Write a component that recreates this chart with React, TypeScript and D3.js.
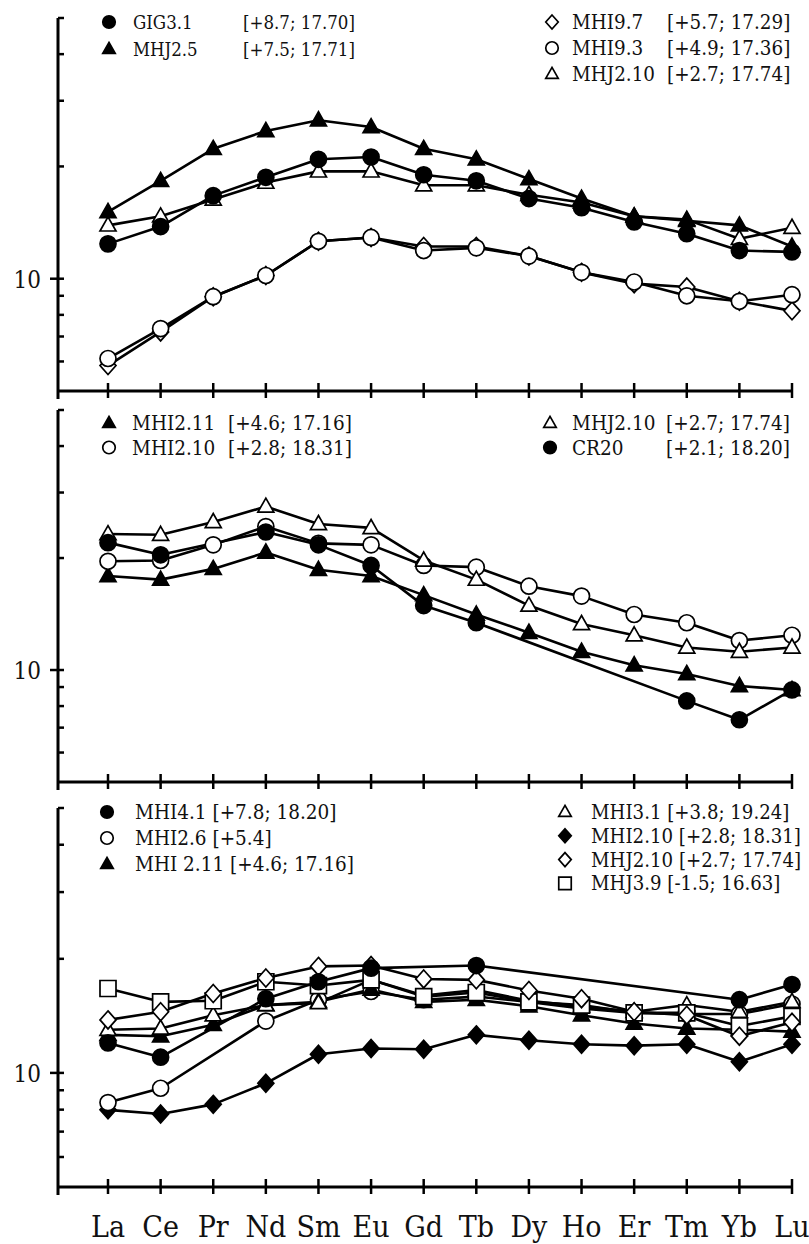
import React from "react";
import * as d3 from "d3";

// REE pattern (chondrite-normalised) for three groups of samples
const ELEMENTS = ["La", "Ce", "Pr", "Nd", "Sm", "Eu", "Gd", "Tb", "Dy", "Ho", "Er", "Tm", "Yb", "Lu"];
const Y_DOMAIN = [5, 50];
const Y_MINOR_TICKS = [6, 7, 8, 9, 20, 30, 40, 50];
const Y_MAJOR_TICKS = [10];

// Panel A
const GIG3_1 = [12.4, 13.8, 16.7, 18.7, 20.9, 21.2, 19.0, 18.3, 16.4, 15.5, 14.2, 13.2, 11.9, 11.8];
const MHJ2_5 = [15.1, 18.3, 22.3, 24.9, 26.6, 25.5, 22.3, 20.9, 18.5, 16.4, 14.7, 14.3, 13.9, 12.2];
const MHI9_7 = [5.85, 7.2, 8.95, 10.2, 12.6, 12.9, 12.2, 12.2, 11.5, 10.4, 9.7, 9.5, 8.7, 8.2];
const MHI9_3 = [6.11, 7.35, 8.95, 10.2, 12.6, 12.9, 11.9, 12.1, 11.5, 10.4, 9.8, 9.0, 8.7, 9.06];
const MHJ2_10_A = [13.9, 14.7, 16.3, 18.1, 19.4, 19.4, 17.8, 17.8, 16.8, 16.0, 14.7, 14.4, 12.8, 13.7];

// Panel B
const MHI2_11_B = [17.9, 17.5, 18.7, 20.7, 18.6, 17.9, 15.9, 14.1, 12.6, 11.2, 10.3, 9.76, 9.06, 8.84];
const MHI2_10_B = [19.6, 19.7, 21.7, 24.3, 21.9, 21.7, 19.1, 18.9, 16.8, 15.8, 14.1, 13.4, 12.0, 12.4];
const MHJ2_10_B = [23.2, 23.1, 25.0, 27.5, 24.7, 24.1, 19.7, 17.5, 14.9, 13.3, 12.4, 11.5, 11.2, 11.5];
const CR20 = [22.0, 20.4, null, 23.5, 21.7, 19.1, 14.9, 13.4, null, null, null, 8.26, 7.35, 8.84];

// Panel C
const MHI4_1 = [12.0, 11.0, null, 15.7, 17.4, 18.9, null, 19.2, null, null, null, null, 15.6, 17.1];
const MHI2_6 = [8.35, 9.11, null, 13.7, 15.6, 16.4, 15.6, 15.9, 15.4, 14.8, 14.4, 14.3, 14.3, 15.2];
const MHI2_11_C = [12.6, 12.5, 13.4, 15.1, 15.4, 16.6, 15.4, 15.6, 15.0, 14.2, 13.5, 13.1, 13.0, 12.85];
const MHI3_1 = [13.0, 13.1, 14.2, 15.1, 15.3, 17.6, 16.0, 16.55, 15.5, 15.0, 14.5, 15.1, 14.5, 15.4];
const MHI2_10_C = [7.99, 7.79, 8.26, 9.39, 11.2, 11.6, 11.55, 12.6, 12.2, 11.9, 11.8, 11.9, 10.7, 11.9];
const MHJ2_10_C = [13.8, 14.5, 16.2, 17.8, 19.1, 19.2, 17.7, 17.6, 16.5, 15.7, 14.5, 14.2, 12.5, 13.6];
const MHJ3_9 = [16.7, 15.4, 15.5, 17.4, 17.0, 17.6, 15.9, 16.3, 15.4, 15.1, 14.4, 14.4, 13.3, 14.1];

type MarkerKind = "circleF" | "circleO" | "triF" | "triO" | "diaF" | "diaO" | "sqO";

interface Series { values: (number | null)[]; marker: MarkerKind; }
interface LegendItem { marker: MarkerKind; name: string; info: string; }
interface LegendBlock { x: number; nameX: number; infoX: number | null; y: number; dy: number; size: number; items: LegendItem[]; }
interface Panel { top: number; bottom: number; series: Series[]; legends: LegendBlock[]; }

const W = 809;
const H = 1244;
const AXIS_X = 58;
const X_FIRST = 108;
const X_LAST = 792;
const FONT = "'DejaVu Serif Condensed', 'DejaVu Serif', 'Liberation Serif', serif";
const INK = "#111";

const PANELS: Panel[] = [
  {
    top: 18, bottom: 391,
    series: [
      { values: MHI9_7, marker: "diaO" },
      { values: MHI9_3, marker: "circleO" },
      { values: MHJ2_10_A, marker: "triO" },
      { values: GIG3_1, marker: "circleF" },
      { values: MHJ2_5, marker: "triF" },
    ],
    legends: [
      { x: 109, nameX: 133, infoX: 243, y: 22, dy: 27, size: 18.5, items: [
        { marker: "circleF", name: "GIG3.1", info: "[+8.7; 17.70]" },
        { marker: "triF", name: "MHJ2.5", info: "[+7.5; 17.71]" },
      ] },
      { x: 552, nameX: 572, infoX: 667, y: 22, dy: 26, size: 20.4, items: [
        { marker: "diaO", name: "MHI9.7", info: "[+5.7; 17.29]" },
        { marker: "circleO", name: "MHI9.3", info: "[+4.9; 17.36]" },
        { marker: "triO", name: "MHJ2.10", info: "[+2.7; 17.74]" },
      ] },
    ],
  },
  {
    top: 410, bottom: 782,
    series: [
      { values: MHI2_11_B, marker: "triF" },
      { values: MHI2_10_B, marker: "circleO" },
      { values: MHJ2_10_B, marker: "triO" },
      { values: CR20, marker: "circleF" },
    ],
    legends: [
      { x: 109, nameX: 132, infoX: 228, y: 423, dy: 24.5, size: 20.5, items: [
        { marker: "triF", name: "MHI2.11", info: "[+4.6; 17.16]" },
        { marker: "circleO", name: "MHI2.10", info: "[+2.8; 18.31]" },
      ] },
      { x: 550, nameX: 572, infoX: 666, y: 423, dy: 24.5, size: 20.5, items: [
        { marker: "triO", name: "MHJ2.10", info: "[+2.7; 17.74]" },
        { marker: "circleF", name: "CR20", info: "[+2.1; 18.20]" },
      ] },
    ],
  },
  {
    top: 808, bottom: 1187,
    series: [
      { values: MHI2_10_C, marker: "diaF" },
      { values: MHI2_6, marker: "circleO" },
      { values: MHI2_11_C, marker: "triF" },
      { values: MHI3_1, marker: "triO" },
      { values: MHJ3_9, marker: "sqO" },
      { values: MHJ2_10_C, marker: "diaO" },
      { values: MHI4_1, marker: "circleF" },
    ],
    legends: [
      { x: 107, nameX: 135, infoX: null, y: 812, dy: 26, size: 20.5, items: [
        { marker: "circleF", name: "MHI4.1", info: "[+7.8; 18.20]" },
        { marker: "circleO", name: "MHI2.6", info: "[+5.4]" },
        { marker: "triF", name: "MHI 2.11", info: "[+4.6; 17.16]" },
      ] },
      { x: 565, nameX: 591, infoX: null, y: 812, dy: 23.8, size: 20.2, items: [
        { marker: "triO", name: "MHI3.1", info: "[+3.8; 19.24]" },
        { marker: "diaF", name: "MHI2.10", info: "[+2.8; 18.31]" },
        { marker: "diaO", name: "MHJ2.10", info: "[+2.7; 17.74]" },
        { marker: "sqO", name: "MHJ3.9", info: "[-1.5; 16.63]" },
      ] },
    ],
  },
];

function markerPath(kind: MarkerKind, s: number): string {
  if (kind === "circleF" || kind === "circleO") {
    return d3.symbol(d3.symbolCircle, Math.PI * (s / 2) * (s / 2))() as string;
  }
  if (kind === "triF" || kind === "triO") {
    const h = s * 0.88;
    return `M0,${-h * 0.6}L${s / 2},${h * 0.4}L${-s / 2},${h * 0.4}Z`;
  }
  if (kind === "diaF" || kind === "diaO") {
    const a = s * 0.56;
    const b = s * 0.5;
    return `M0,${-a}L${b},0L0,${a}L${-b},0Z`;
  }
  const r = s / 2;
  return `M${-r},${-r}H${r}V${r}H${-r}Z`;
}

function isFilled(kind: MarkerKind): boolean {
  return kind === "circleF" || kind === "triF" || kind === "diaF";
}

const x = d3.scalePoint<string>().domain(ELEMENTS).range([X_FIRST, X_LAST]);

function Marker({ kind, cx, cy, s }: { kind: MarkerKind; cx: number; cy: number; s: number }) {
  return (
    <path
      d={markerPath(kind, s)}
      transform={`translate(${cx},${cy})`}
      fill={isFilled(kind) ? "#000" : "#fff"}
      stroke="#000"
      strokeWidth={1.7}
    />
  );
}

function PanelView({ panel, showLabels }: { panel: Panel; showLabels: boolean }) {
  const y = d3.scaleLog().domain(Y_DOMAIN).range([panel.bottom, panel.top]);
  const line = d3
    .line<{ i: number; v: number }>()
    .x((d) => x(ELEMENTS[d.i]) as number)
    .y((d) => y(d.v));

  const pts = (vals: (number | null)[]) =>
    vals.map((v, i) => ({ i, v })).filter((d) => d.v != null) as { i: number; v: number }[];

  return (
    <g>
      {/* y axis */}
      <line x1={AXIS_X} x2={AXIS_X} y1={y(50)} y2={panel.bottom + 8} stroke="#000" strokeWidth={3} />
      {Y_MINOR_TICKS.map((t) => (
        <line key={t} x1={AXIS_X} x2={AXIS_X + 6} y1={y(t)} y2={y(t)} stroke="#000" strokeWidth={2.5} />
      ))}
      {Y_MAJOR_TICKS.map((t) => (
        <g key={t}>
          <line x1={AXIS_X - 8} x2={AXIS_X + 6} y1={y(t)} y2={y(t)} stroke="#000" strokeWidth={2.5} />
          <text x={AXIS_X - 17} y={y(t) + 9} textAnchor="end" fontFamily={FONT} fontSize={24} fill={INK}>
            {t}
          </text>
        </g>
      ))}
      {/* x axis */}
      <line x1={AXIS_X} x2={X_LAST + 1} y1={panel.bottom} y2={panel.bottom} stroke="#000" strokeWidth={3} />
      {ELEMENTS.map((el) => (
        <line
          key={el}
          x1={x(el)}
          x2={x(el)}
          y1={panel.bottom - 8}
          y2={panel.bottom + 7}
          stroke="#000"
          strokeWidth={2.5}
        />
      ))}
      {showLabels &&
        ELEMENTS.map((el) => (
          <text
            key={el}
            x={x(el)}
            y={panel.bottom + 50}
            textAnchor="middle"
            fontFamily={FONT}
            fontSize={30}
            fill={INK}
          >
            {el}
          </text>
        ))}
      {/* series lines */}
      {panel.series.map((s, k) => (
        <path key={k} d={line(pts(s.values)) as string} fill="none" stroke="#000" strokeWidth={2.6} strokeLinejoin="round" />
      ))}
      {/* series markers */}
      {panel.series.map((s, k) => (
        <g key={k}>
          {pts(s.values).map((d) => (
            <Marker key={d.i} kind={s.marker} cx={x(ELEMENTS[d.i]) as number} cy={y(d.v)} s={16} />
          ))}
        </g>
      ))}
      {/* legends */}
      {panel.legends.map((lg, k) => (
        <g key={k}>
          {lg.items.map((it, j) => {
            const cy = lg.y + j * lg.dy;
            return (
              <g key={j}>
                <Marker kind={it.marker} cx={lg.x} cy={cy} s={12.5} />
                {lg.infoX != null ? (
                  <>
                    <text x={lg.nameX} y={cy + 7} fontFamily={FONT} fontSize={lg.size} fill={INK}>{it.name}</text>
                    <text x={lg.infoX} y={cy + 7} fontFamily={FONT} fontSize={lg.size} fill={INK}>{it.info}</text>
                  </>
                ) : (
                  <text x={lg.nameX} y={cy + 7} fontFamily={FONT} fontSize={lg.size} fill={INK}>
                    {it.name + " " + it.info}
                  </text>
                )}
              </g>
            );
          })}
        </g>
      ))}
    </g>
  );
}

export default function App() {
  return (
    <svg
      width={W}
      height={H}
      viewBox={`0 0 ${W} ${H}`}
      style={{ position: "absolute", left: 0, top: 0, background: "#fff" }}
    >
      <rect width={W} height={H} fill="#fff" />
      {PANELS.map((p, i) => (
        <PanelView key={i} panel={p} showLabels={i === PANELS.length - 1} />
      ))}
    </svg>
  );
}
